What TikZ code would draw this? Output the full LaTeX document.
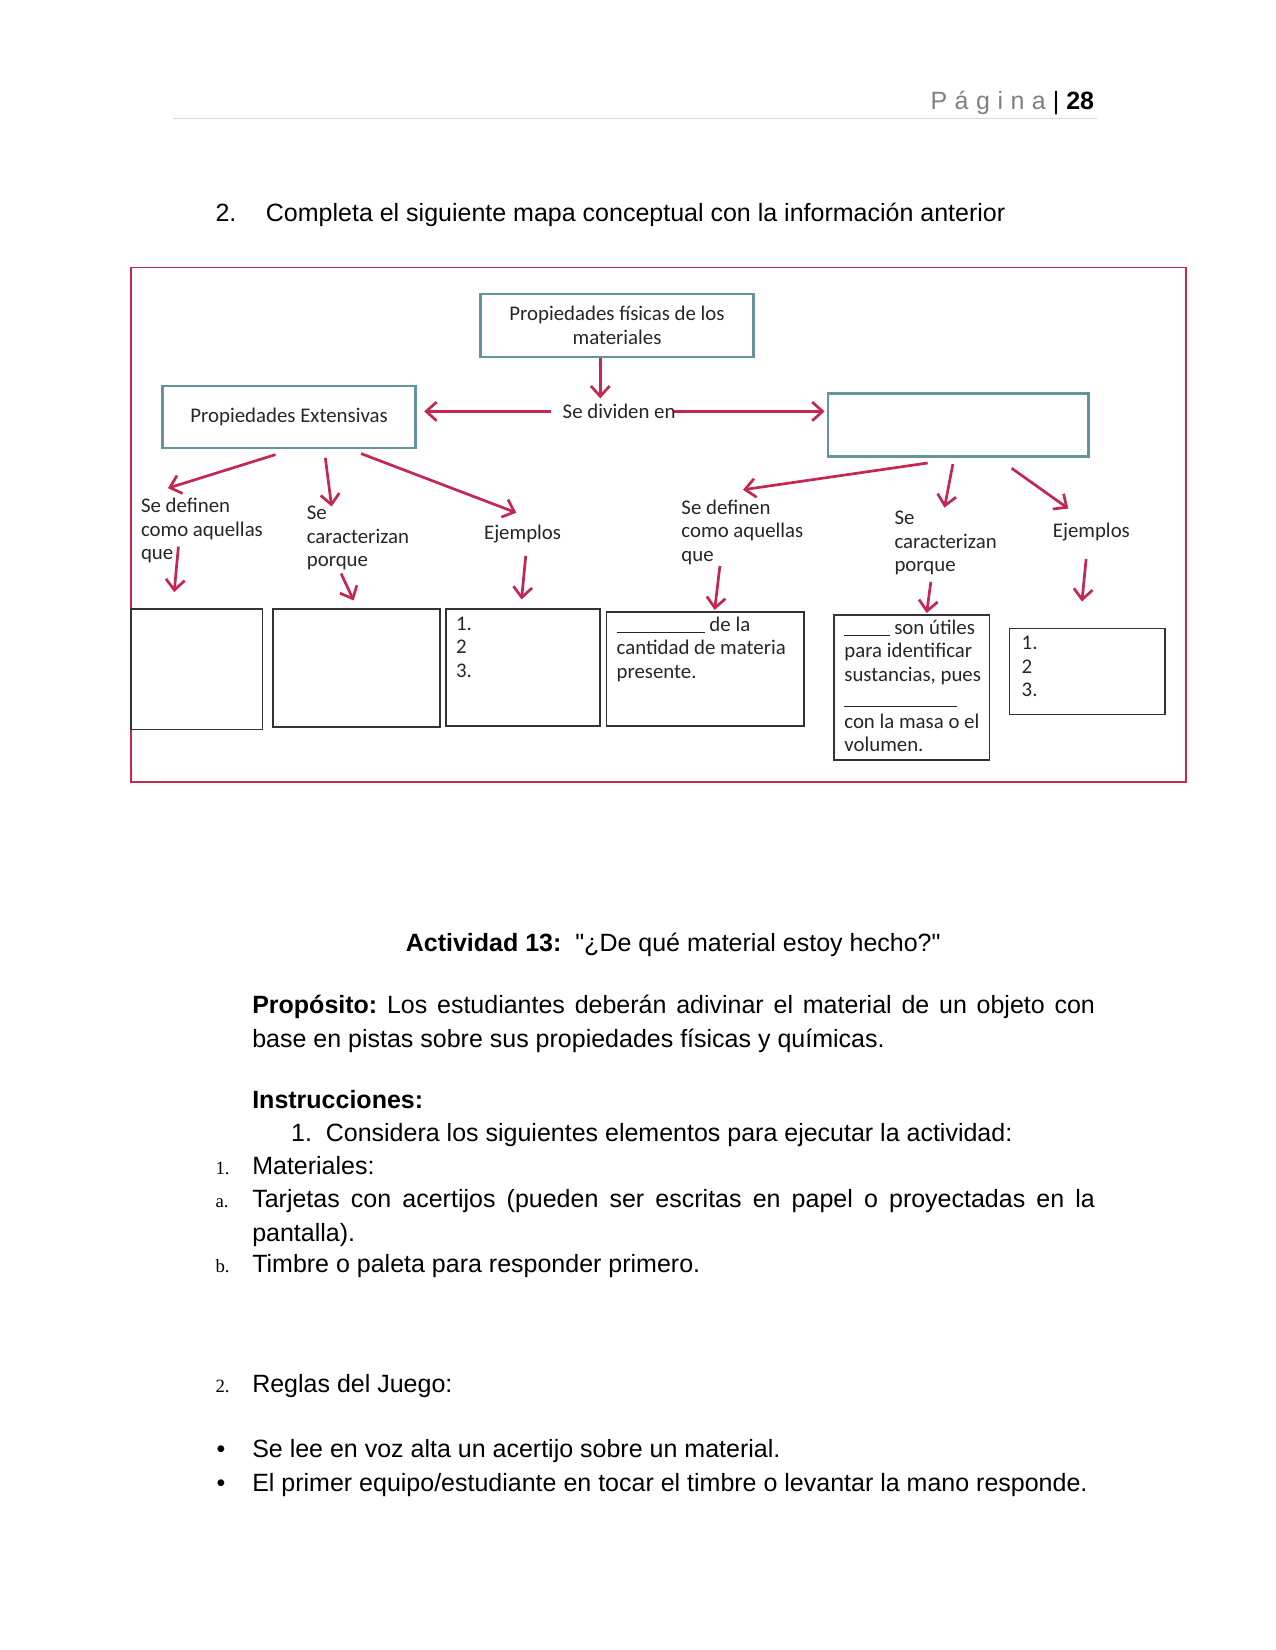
\documentclass[tikz,border=0pt]{standalone}
\usepackage{fontspec}
\setmainfont{Liberation Sans}
\newfontfamily\mapfont{Carlito}
\newfontfamily\numfont{Liberation Serif}
\newfontfamily\spacedfont[LetterSpace=30]{Liberation Sans}
\usetikzlibrary{arrows.meta,calc}
\definecolor{crimson}{RGB}{196,40,80}
\definecolor{tealgray}{RGB}{100,148,158}
\newcommand{\sq}{{\addfontfeatures{Ligatures=TeXOff}"}}
\frenchspacing

\begin{document}
\begin{tikzpicture}[x=0.5037pt,y=-0.5037pt,
	body/.style={anchor=base west,inner sep=0,font=\fontsize{12}{16.1}\selectfont},
	num/.style={anchor=base west,inner sep=0,font=\numfont\fontsize{9}{11}\selectfont},
	mapbox/.style={draw=tealgray,line width=1.2pt,inner sep=0,align=center,font=\mapfont\fontsize{10}{11.3}\selectfont,text=black!85},
	blank/.style={draw=black!80,line width=0.8pt,inner sep=0},
	maptxt/.style={inner sep=0,align=left,font=\mapfont\fontsize{10}{11.3}\selectfont,text=black!85},
	arr/.style={draw=crimson,line width=1.3pt,-{Straight Barb[length=5pt,width=9pt]}}]
	\useasboundingbox (0,0) rectangle (1215,1572.3);
	% header
	\node[body,anchor=base east,font=\fontsize{12}{14}\selectfont] (pag) at (1043,104) {{\spacedfont\color{black!50}Página}\ |\ \textbf{28}};
	\draw[black!15,line width=0.6pt] (165,113) -- (1045,113);
	\node[body] (q2n) at (205,211) {2.};
	\node[body] (q2) at (253,211) {Completa el siguiente mapa conceptual con la información anterior};
	% concept map
	\draw[crimson,line width=0.8pt] (125,255) rectangle (1130,745);
	\node[mapbox,minimum width=130.96pt,minimum height=30.22pt] (top) at (588,310) {Propiedades físicas de los\\materiales};
	\node[mapbox,minimum width=121.39pt,minimum height=29.72pt] (ext) at (275.5,397.5) {Propiedades Extensivas};
	\node[mapbox,minimum width=124.92pt,minimum height=30.22pt] (int) at (913,405) {};
	\node[maptxt] (div) at (590,392) {Se dividen en};
	\draw[arr] ($(top.south)+(-16,0)$) -- ($(div.north)+(-18,-5)$);
	\draw[arr] ($(div.west)+(-11,0)$) -- ($(div.west -| ext.east)+(7,0)$);
	\draw[arr] ($(div.east)+(-2,0)$) -- ($(div.east -| int.west)+(-2,0)$);
	% left branch
	\node[maptxt,anchor=west] (def1) at (134,505.5) {Se definen\\como aquellas\\que};
	\node[maptxt,anchor=west] (car1) at (292,512.6) {Se\\caracterizan\\porque};
	\node[maptxt] (ej1) at (498,508.6) {Ejemplos};
	\draw[arr] ($(ext.south)+(-13,5)$) -- ($(def1.north west)+(26,-9)$);
	\draw[arr] ($(ext.south)+(34.5,8)$) -- ($(car1.north west)+(24,1)$);
	\draw[arr] ($(ext.south)+(68.5,4)$) -- ($(ej1.north)+(-6,-11)$);
	\node[blank,minimum width=62.96pt,minimum height=57.93pt] (b1) at (187.5,637.5) {};
	\node[blank,minimum width=80.09pt,minimum height=56.92pt] (b2) at (339.5,636.5) {};
	\node[blank,minimum width=74.04pt,minimum height=56.41pt] (b3) at (498.5,636) {};
	\node[maptxt,anchor=north west] (l3) at ($(b3.north west)+(10,8)$) {1.\\2\\3.};
	\draw[arr] ($(def1.south west)+(36,-16)$) -- ($(b1.north)+(-21.5,-15)$);
	\draw[arr] ($(car1.south west)+(33,3)$) -- ($(b2.north)+(-2.5,-7)$);
	\draw[arr] ($(ej1.south)+(3,12)$) -- ($(b3.north)+(-1.5,-8)$);
	% right branch
	\node[maptxt,anchor=west] (def2) at (649,507) {Se definen\\como aquellas\\que};
	\node[maptxt,anchor=west] (car2) at (852,517.6) {Se\\caracterizan\\porque};
	\node[maptxt] (ej2) at (1040,506.6) {Ejemplos};
	\draw[arr] ($(int.south)+(-29,5)$) -- ($(def2.north west)+(59,-9)$);
	\draw[arr] ($(int.south)+(-5,6)$) -- ($(car2.north west)+(48,-3)$);
	\draw[arr] ($(int.south)+(51,10)$) -- ($(ej2.north)+(-22,-13)$);
	\node[blank,minimum width=94.70pt,minimum height=54.90pt] (b4) at (672,637.5) {};
	\node[blank,minimum width=74.55pt,minimum height=69.51pt] (b5) at (869,655) {};
	\node[blank,minimum width=74.55pt,minimum height=41.30pt] (b6) at (1036,640) {};
	\node[maptxt,anchor=north west] (l4) at ($(b4.north west)+(10,5)$) {\rule[-1pt]{42.3pt}{0.6pt} de la\\cantidad de materia\\presente.};
	\node[maptxt,anchor=north west] (l5) at ($(b5.north west)+(10,5)$) {\rule[-1pt]{21.7pt}{0.6pt} son útiles\\para identificar\\sustancias, pues\\\rule[-1pt]{53.9pt}{0.6pt}\\con la masa o el\\volumen.};
	\node[maptxt,anchor=north west] (l6) at ($(b6.north west)+(12,7.5)$) {1.\\2\\3.};
	\draw[arr] ($(def2.south west)+(37,1)$) -- ($(b4.north)+(9,-1)$);
	\draw[arr] ($(car2.south west)+(35,6)$) -- ($(b5.north)+(14,-1)$);
	\draw[arr] ($(ej2.south)+(-5,17)$) -- ($(b6.north)+(-5,-25)$);
	% activity text
	\node[body,anchor=base] (act) at (641.5,907) {\textbf{Actividad 13:}\ \ \sq¿De qué material estoy hecho?\sq};
	\node[body,text width=404.5pt,align=justify] (prop) at (240,966) {\textbf{Propósito:} Los estudiantes deberán adivinar el material de un objeto con base en pistas sobre sus propiedades físicas y químicas.};
	\node[body] (ins) at (240,1056) {\textbf{Instrucciones:}};
	\node[body] (con) at (277,1088) {1.\ \ Considera los siguientes elementos para ejecutar la actividad:};
	\node[num] (n1) at (205,1119) {1.};
	\node[body] (mat) at (240,1119) {Materiales:};
	\node[num] (na) at (205,1151) {a.};
	\node[body,text width=404.5pt,align=justify] (tar) at (240,1151) {Tarjetas con acertijos (pueden ser escritas en papel o proyectadas en la \mbox{pantalla).}};
	\node[num] (nb) at (205,1213) {b.};
	\node[body] (tim) at (240,1213) {Timbre o paleta para responder primero.};
	\node[num] (n2) at (205,1327) {2.};
	\node[body] (reg) at (240,1327) {Reglas del Juego:};
	\node[body] (d1) at (206,1389) {•};
	\node[body] (lee) at (240,1389) {Se lee en voz alta un acertijo sobre un material.};
	\node[body] (d2) at (206,1421) {•};
	\node[body] (pri) at (240,1421) {El primer equipo/estudiante en tocar el timbre o levantar la mano responde.};
\end{tikzpicture}
\end{document}
